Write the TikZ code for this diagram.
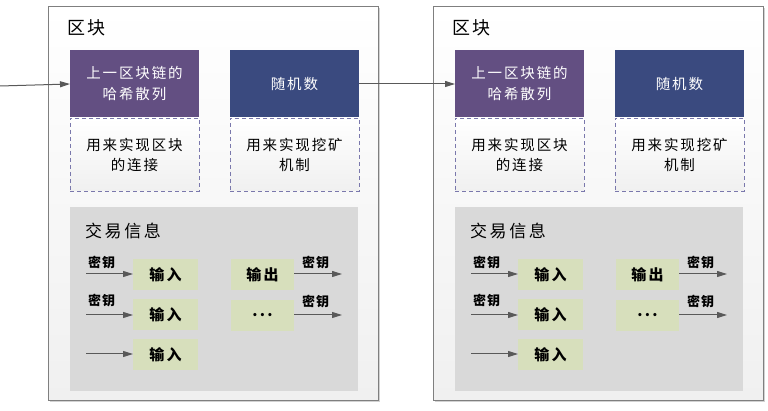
\documentclass[tikz,border=0pt]{standalone}
\usepackage{fontspec}
\newfontfamily\cjk{Noto Sans CJK SC}
\usetikzlibrary{arrows.meta,shadows}
\definecolor{hashpurple}{HTML}{634F82}
\definecolor{randnavy}{HTML}{3A4A7F}
\definecolor{dashborder}{HTML}{7A78AC}
\definecolor{txgray}{HTML}{D9D9D9}
\definecolor{inolive}{HTML}{D7DFBC}
\definecolor{arrowgray}{HTML}{595959}
\definecolor{blockborder}{HTML}{7F7F7F}
\definecolor{blockbottom}{HTML}{F0F0F0}
\tikzset{
  box/.style={anchor=north west, inner sep=0pt, outer sep=0pt},
  blockbox/.style={box, draw=blockborder, line width=1pt, top color=white, bottom color=blockbottom,
    drop shadow={shadow xshift=1.5pt, shadow yshift=-1.5pt, opacity=0.35}, minimum width=330pt, minimum height=393pt},
  titletext/.style={anchor=west, inner sep=0pt, font=\cjk\fontsize{18}{20}\selectfont\addfontfeatures{LetterSpace=12}},
  headbox/.style={box, minimum width=129pt, minimum height=68pt, text=white, align=center,
    font=\cjk\fontsize{14.5}{21}\selectfont\addfontfeatures{LetterSpace=13}},
  notebox/.style={box, draw=dashborder, line width=0.9pt, dash pattern=on 4pt off 3pt, top color=white, bottom color=blockbottom,
    minimum width=129pt, minimum height=73pt, align=center,
    font=\cjk\fontsize{14.5}{20}\selectfont\addfontfeatures{LetterSpace=13}},
  txbox/.style={box, fill=txgray, minimum width=288pt, minimum height=184pt},
  txtitle/.style={anchor=west, inner sep=0pt, font=\cjk\fontsize{17}{20}\selectfont\addfontfeatures{LetterSpace=15}},
  iobox/.style={box, fill=inolive, minimum width=65pt, minimum height=31pt,
    font=\cjk\bfseries\fontsize{15}{16}\selectfont\addfontfeatures{LetterSpace=15}},
  outbox/.style={iobox, minimum width=63pt},
  keylabel/.style={anchor=west, inner sep=0pt, font=\cjk\bfseries\fontsize{13}{14}\selectfont\addfontfeatures{LetterSpace=8}},
  arr/.style={draw=arrowgray, line width=1pt, -{Triangle[length=10pt,width=6pt]}}
}
\begin{document}
\begin{tikzpicture}[x=1pt,y=-1pt]
\useasboundingbox[fill=white] (0,0) rectangle (768,411);
\foreach \i/\dx in {1/0,2/385}{
  \begin{scope}[xshift=\dx pt]
    \node[blockbox] (block\i) at (48,7) {};
    \node[titletext] (title\i) at (67,28) {区块};
    \node[headbox, fill=hashpurple] (hash\i) at (70,50) {上一区块链的\\哈希散列};
    \node[headbox, fill=randnavy] (rand\i) at (230,50) {随机数};
    \node[notebox] (hashnote\i) at (70,118) {用来实现区块\\的连接};
    \node[notebox] (randnote\i) at (230,118) {用来实现挖矿\\机制};
    \node[txbox] (tx\i) at (70,207) {};
    \node[txtitle] (txtitle\i) at (85,231) {交易信息};
    \node[iobox] (inA\i) at (133,259) {输入};
    \node[iobox] (inB\i) at (133,299) {输入};
    \node[iobox] (inC\i) at (133,339) {输入};
    \node[outbox] (outA\i) at (231,259) {输出};
    \node[outbox] (outB\i) at (231,300) {...};
    \coordinate (inAs\i) at (86,274);
    \coordinate (inBs\i) at (86,315);
    \coordinate (inCs\i) at (86,354);
    \coordinate (outAe\i) at (342,274);
    \coordinate (outBe\i) at (342,315);
    \draw[arr] (inAs\i) -- (inA\i.west |- inAs\i);
    \draw[arr] (inBs\i) -- (inB\i.west |- inBs\i);
    \draw[arr] (inCs\i) -- (inC\i.west |- inCs\i);
    \draw[arr] (outA\i.east |- outAe\i) -- (outAe\i);
    \draw[arr] (outB\i.east |- outBe\i) -- (outBe\i);
    \node[keylabel] (keyA\i) at (88,263) {密钥};
    \node[keylabel] (keyB\i) at (88,301) {密钥};
    \node[keylabel] (keyC\i) at (302,263) {密钥};
    \node[keylabel] (keyD\i) at (302,302) {密钥};
  \end{scope}
}
\coordinate (start) at (0,86);
\draw[arr] (start) -- (hash1.west);
\draw[arr] (rand1.east) -- (hash2.west);
\end{tikzpicture}
\end{document}
